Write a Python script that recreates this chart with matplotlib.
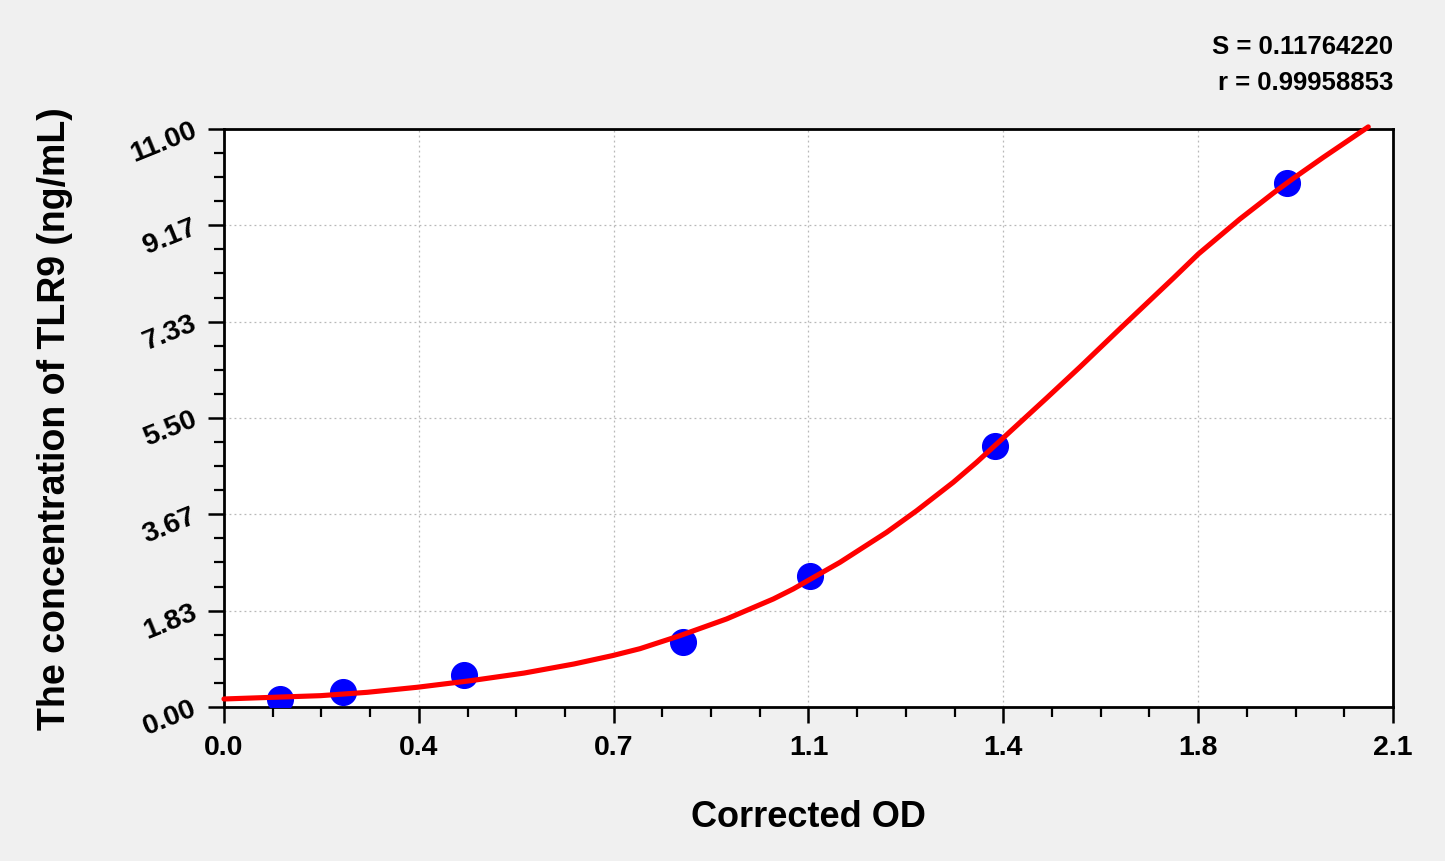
import numpy as np
import matplotlib.pyplot as plt
from matplotlib.ticker import AutoMinorLocator

plt.rcParams['font.family'] = ['Liberation Sans', 'DejaVu Sans']
plt.rcParams['font.weight'] = 'bold'

# standard points (corrected OD vs concentration)
od = [0.100, 0.2145, 0.431, 0.825, 1.053, 1.385, 1.909]
conc = [0.15, 0.29, 0.60, 1.23, 2.49, 4.97, 9.97]

# fitted curve
curve_x = [0.0, 0.1737, 0.2575, 0.3473, 0.4432, 0.539, 0.6288, 0.6977,
           0.7473, 0.8191, 0.9029, 0.9868, 1.0227, 1.1066, 1.1904, 1.2443,
           1.3101, 1.3520, 1.3880, 1.4419, 1.4779, 1.5377, 1.6156, 1.7054,
           1.7503, 1.8251, 1.8850, 1.9209, 1.9748, 2.0556]
curve_y = [0.152, 0.215, 0.279, 0.375, 0.50, 0.645, 0.818, 0.977,
           1.109, 1.357, 1.675, 2.055, 2.246, 2.753, 3.324, 3.735,
           4.276, 4.656, 5.005, 5.53, 5.88, 6.47, 7.26, 8.16,
           8.62, 9.287, 9.78, 10.06, 10.46, 11.04]

xticks = [0.0, 0.35, 0.7, 1.05, 1.4, 1.75, 2.1]
xlabels = ["0.0", "0.4", "0.7", "1.1", "1.4", "1.8", "2.1"]
yticks = [0.0, 11/6, 22/6, 5.5, 44/6, 55/6, 11.0]
ylabels = ["0.00", "1.83", "3.67", "5.50", "7.33", "9.17", "11.00"]

S_txt = "S = 0.11764220"
r_txt = "r = 0.99958853"

fig = plt.figure(figsize=(14.45, 8.62), dpi=100, facecolor='#f0f0f0')
ax = fig.add_axes([0.155, 0.1787, 0.809, 0.6705])
ax.set_facecolor('white')

ax.plot(od, conc, 'o', color='#0000ff', markersize=18.5, zorder=3)
ax.plot(curve_x, curve_y, '-', color='#ff0000', lw=3.7, zorder=4,
        clip_on=False, solid_capstyle='round', solid_joinstyle='round')

ax.set_xlim(0, 2.1)
ax.set_ylim(0, 11)
ax.set_xticks(xticks)
ax.set_xticklabels(xlabels)
ax.set_yticks(yticks)
ax.set_yticklabels(ylabels, rotation=22, ha='right', va='center',
                   rotation_mode='anchor')
ax.xaxis.set_minor_locator(AutoMinorLocator(4))
ax.yaxis.set_minor_locator(AutoMinorLocator(4))

ax.tick_params(which='major', length=11.5, width=1.8, labelsize=20.5, pad=8)
ax.tick_params(which='minor', length=7, width=1.6)
ax.tick_params(axis='y', which='major', pad=9)
for s in ax.spines.values():
    s.set_linewidth(2)

ax.grid(True, which='major', linestyle=(0, (1.5, 2.5)), color='#b8b8b8', lw=0.9)

ax.set_xlabel("Corrected OD", fontsize=26, fontweight='bold')
ax.xaxis.label.set_va('center')
ax.xaxis.set_label_coords(0.5, (708 - 818) / 578)
ax.set_ylabel("The concentration of TLR9 (ng/mL)", fontsize=27,
              fontweight='bold')
ax.yaxis.label.set_va('center')
ax.yaxis.set_label_coords((55 - 224) / 1169, 0.5)

fig.text(0.964, 0.945, S_txt, ha='right', va='center', fontsize=18.5,
         fontweight='bold')
fig.text(0.964, 0.904, r_txt, ha='right', va='center', fontsize=18.5,
         fontweight='bold')

fig.savefig('out.png', dpi=100, facecolor=fig.get_facecolor())
